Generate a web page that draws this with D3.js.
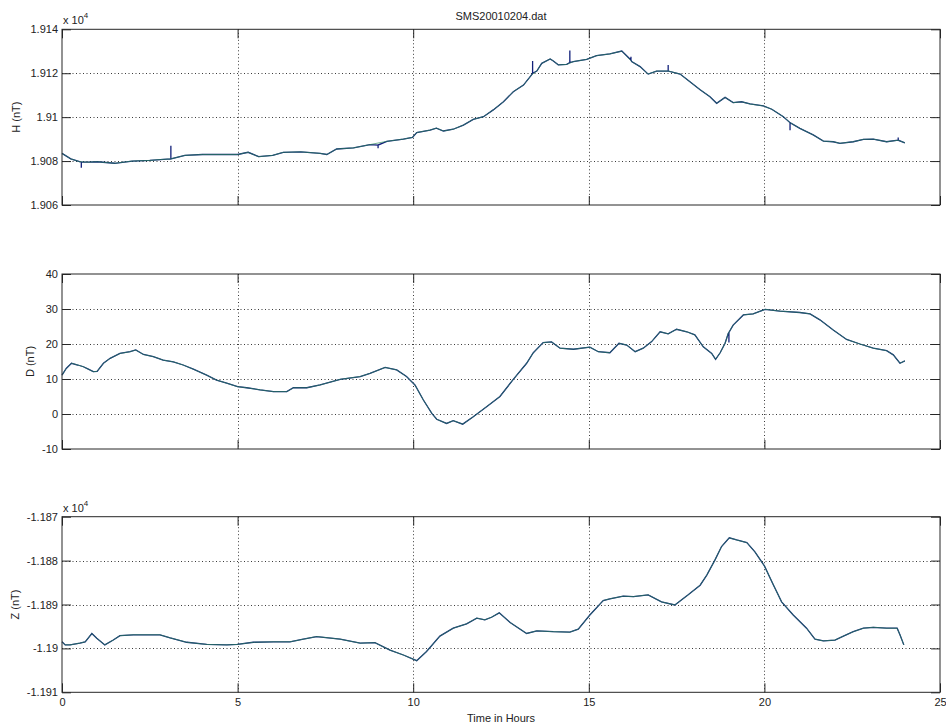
<!DOCTYPE html>
<html><head><meta charset="utf-8">
<script src="https://cdn.jsdelivr.net/npm/d3@7"></script>
<style>body{margin:0;background:#fff}svg{display:block}text{font-family:"Liberation Sans",Arial,sans-serif}</style>
</head><body><svg id="c" width="946" height="727"></svg>
<script>
// ---------- data ----------
const title = "SMS20010204.dat";
const xTicks = [0, 5, 10, 15, 20, 25];
const xLabel = "Time in Hours";

const hHours = [0,0.25,0.5,0.75,1.0,1.5,2.0,2.5,2.8,3.1,3.5,4.0,4.5,5.0,5.3,5.6,6.0,6.3,6.8,7.35,7.54,7.82,8.3,8.77,9.25,9.72,9.98,10.1,10.48,10.66,10.86,11.14,11.43,11.71,12.0,12.28,12.57,12.85,13.14,13.37,13.52,13.66,13.9,13.99,14.13,14.37,14.56,14.94,15.22,15.6,15.94,16.22,16.46,16.69,16.93,17.26,17.6,17.88,18.17,18.45,18.64,18.88,19.11,19.35,19.59,19.97,20.21,20.54,20.73,21.01,21.39,21.68,21.96,22.15,22.53,22.82,23.1,23.48,23.81,24.0];
const hValues = [19083.5,19081.0,19079.7,19079.5,19079.7,19079.0,19080.0,19080.3,19080.7,19081.0,19082.6,19083.0,19083.0,19083.0,19084.0,19082.0,19082.6,19084.0,19084.2,19083.5,19083.0,19085.5,19086.0,19087.5,19089.0,19090.0,19090.8,19093.0,19094.1,19095.0,19093.7,19094.5,19096.4,19099.0,19100.2,19103.3,19107.0,19111.6,19114.6,19119.2,19121.0,19124.5,19126.5,19125.6,19123.8,19124.0,19125.3,19126.3,19128.0,19128.8,19130.1,19125.3,19123.0,19119.6,19121.0,19121.0,19119.6,19116.1,19112.5,19109.3,19106.3,19109.0,19106.6,19107.0,19106.0,19105.1,19103.6,19100.2,19097.5,19094.9,19091.9,19089.1,19088.8,19088.1,19088.8,19089.9,19090.0,19088.8,19089.5,19088.3];
// spikes in the raw (blue) trace: hour, base, tip
const hSpikeHours = [0.55, 3.1, 9.0, 13.4, 14.46, 16.2, 17.26, 20.73, 23.81];
const hSpikeBase  = [19079.6, 19081.0, 19087.3, 19120.0, 19124.8, 19126.0, 19121.0, 19097.5, 19089.5];
const hSpikeTip   = [19077.0, 19087.0, 19085.8, 19125.6, 19130.3, 19127.5, 19123.8, 19094.0, 19090.7];

const dHours = [0,0.12,0.27,0.45,0.61,0.75,0.89,1.0,1.18,1.37,1.65,1.94,2.1,2.32,2.6,2.88,3.17,3.45,3.74,4.12,4.4,4.69,5.0,5.26,5.64,6.02,6.4,6.59,6.97,7.35,7.92,8.49,8.77,9.2,9.53,9.81,10.05,10.29,10.53,10.67,10.95,11.14,11.41,11.71,12.09,12.47,12.85,13.23,13.42,13.7,13.94,14.18,14.56,15.03,15.27,15.6,15.86,16.08,16.32,16.55,16.79,17.03,17.26,17.5,17.79,18.02,18.26,18.5,18.61,18.74,18.88,18.97,19.11,19.4,19.68,20.02,20.44,21.01,21.3,21.58,21.96,22.34,22.72,23.1,23.48,23.67,23.86,24.0];
const dValues = [11.1,13.0,14.5,14.0,13.5,12.8,12.1,12.2,14.5,15.9,17.3,17.8,18.3,17.0,16.4,15.4,14.9,14.0,12.8,11.1,9.7,8.8,7.8,7.5,6.9,6.4,6.4,7.5,7.5,8.3,9.9,10.7,11.6,13.3,12.6,10.7,8.3,4.0,0.2,-1.5,-2.7,-1.9,-2.9,-0.8,2.1,5.0,9.9,14.5,17.5,20.4,20.6,18.8,18.5,19.1,17.8,17.5,20.2,19.7,17.8,18.8,20.7,23.5,22.9,24.2,23.5,22.6,19.2,17.3,15.6,17.5,20.2,23.0,25.4,28.3,28.6,29.9,29.4,29.0,28.6,26.9,24.0,21.3,20.0,18.8,18.1,16.9,14.5,15.2];
const dSpikeHours = [18.99];
const dSpikeBase  = [23.3];
const dSpikeTip   = [20.4];

const zHours = [0,0.09,0.23,0.51,0.66,0.85,0.99,1.22,1.46,1.65,2.03,2.79,3.08,3.55,4.12,4.69,4.99,5.45,6.02,6.49,6.87,7.25,7.92,8.49,8.91,9.34,9.72,10.1,10.38,10.76,11.14,11.52,11.81,12.04,12.23,12.45,12.76,13.23,13.52,13.99,14.46,14.7,15.03,15.41,15.6,15.98,16.27,16.69,17.07,17.45,17.83,18.17,18.36,18.59,18.78,19.0,19.21,19.5,19.73,20.0,20.26,20.49,20.82,21.2,21.44,21.68,22.01,22.25,22.53,22.82,23.1,23.48,23.78,23.86,23.97];
const zValues = [-11898.5,-11899.2,-11899.2,-11898.8,-11898.5,-11896.6,-11897.7,-11899.2,-11898.1,-11897.1,-11896.9,-11896.9,-11897.6,-11898.6,-11899.1,-11899.2,-11899.1,-11898.6,-11898.5,-11898.5,-11897.9,-11897.3,-11897.9,-11898.8,-11898.7,-11900.4,-11901.5,-11902.8,-11900.7,-11897.2,-11895.4,-11894.4,-11893.1,-11893.5,-11892.9,-11891.9,-11894.1,-11896.6,-11896.0,-11896.2,-11896.3,-11895.6,-11892.4,-11889.1,-11888.7,-11888.1,-11888.2,-11887.8,-11889.4,-11890.1,-11887.8,-11885.6,-11883.3,-11879.9,-11876.8,-11874.8,-11875.3,-11875.9,-11878.0,-11881.2,-11885.6,-11889.4,-11892.4,-11895.4,-11897.9,-11898.3,-11898.1,-11897.2,-11896.2,-11895.4,-11895.2,-11895.4,-11895.4,-11896.9,-11899.2];
const zSpikeHours = [], zSpikeBase = [], zSpikeTip = [];

const hTicks = [19060, 19080, 19100, 19120, 19140];
const dTicks = [-10, 0, 10, 20, 30, 40];
const zTicks = [-11910, -11900, -11890, -11880, -11870];
const yLabels = ["H (nT)", "D (nT)", "Z (nT)"];

// ---------- layout ----------
const svg = d3.select("#c");
const xL = 62, xR = 940;
const x = d3.scaleLinear().domain([0, 25]).range([xL, xR]);
const sci = d => String(+(d / 1e4).toFixed(4));
const panels = [
  {top: 29.3, bottom: 205, ticks: hTicks, hours: hHours, vals: hValues, sh: hSpikeHours, sb: hSpikeBase, st: hSpikeTip, fmt: sci, label: yLabels[0], labelX: 16, exp: true},
  {top: 274, bottom: 449, ticks: dTicks, hours: dHours, vals: dValues, sh: dSpikeHours, sb: dSpikeBase, st: dSpikeTip, fmt: d => String(d), label: yLabels[1], labelX: 30, exp: false},
  {top: 516.7, bottom: 692.3, ticks: zTicks, hours: zHours, vals: zValues, sh: zSpikeHours, sb: zSpikeBase, st: zSpikeTip, fmt: sci, label: yLabels[2], labelX: 15, exp: true, xlabels: true}
];
const axisCol = "#262626", textCol = "#222";
const tickLen = 9;

panels.forEach(p => {
  const y = d3.scaleLinear().domain([p.ticks[0], p.ticks[p.ticks.length - 1]]).range([p.bottom, p.top]);
  const g = svg.append("g");
  // grid
  const grid = g.append("g").attr("stroke", "#3a3a3a").attr("stroke-width", 1).attr("stroke-dasharray", "1,2.5");
  xTicks.slice(1, -1).forEach(t => grid.append("line").attr("x1", Math.round(x(t)) + 0.5).attr("x2", Math.round(x(t)) + 0.5).attr("y1", p.top).attr("y2", p.bottom));
  p.ticks.slice(1, -1).forEach(t => grid.append("line").attr("y1", Math.round(y(t)) + 0.5).attr("y2", Math.round(y(t)) + 0.5).attr("x1", xL).attr("x2", xR));

  // green (filtered) and blue (raw with spikes) traces
  const green = p.hours.map((h, i) => [h, p.vals[i]]);
  const blue = green.slice();
  p.sh.forEach((h, i) => { blue.push([h - 0.0001, p.sb[i]], [h, p.st[i]], [h + 0.0001, p.sb[i]]); });
  blue.sort((a, b) => a[0] - b[0]);
  const line = d3.line().x(d => x(d[0])).y(d => y(d[1]));
  g.append("path").attr("d", line(blue)).attr("fill", "none").attr("stroke", "#12207a").attr("stroke-width", 1.3);
  g.append("path").attr("d", line(green)).attr("fill", "none").attr("stroke", "#2f8a5c").attr("stroke-width", 0.8).attr("stroke-opacity", 0.85);

  // axes (ticks inside)
  const styleAxis = sel => { sel.select(".domain").remove(); sel.selectAll("line").attr("stroke", axisCol); sel.selectAll("text").attr("fill", textCol).style("font-size", "11px").style("font-family", "'Liberation Sans',Arial,sans-serif"); };
  g.append("g").attr("transform", `translate(${xL},0)`).call(d3.axisLeft(y).tickValues(p.ticks).tickSize(-tickLen).tickPadding(4).tickFormat(p.fmt)).call(styleAxis);
  g.append("g").attr("transform", `translate(${xR},0)`).call(d3.axisRight(y).tickValues(p.ticks).tickSize(-tickLen).tickFormat("")).call(styleAxis);
  g.append("g").attr("transform", `translate(0,${p.top})`).call(d3.axisTop(x).tickValues(xTicks).tickSize(-tickLen).tickFormat("")).call(styleAxis);
  g.append("g").attr("transform", `translate(0,${p.bottom})`).call(d3.axisBottom(x).tickValues(xTicks).tickSize(-tickLen).tickPadding(6).tickFormat(p.xlabels ? d => String(d) : "")).call(styleAxis);
  g.append("rect").attr("x", xL).attr("y", p.top).attr("width", xR - xL).attr("height", p.bottom - p.top).attr("fill", "none").attr("stroke", axisCol).attr("stroke-width", 1);

  // y label
  g.append("text").attr("transform", `translate(${p.labelX},${(p.top + p.bottom) / 2}) rotate(-90)`).attr("text-anchor", "middle").attr("dy", "0.35em").attr("fill", textCol).style("font-size", "11px").text(p.label);
  if (p.exp) {
    const t = g.append("text").attr("x", xL + 1).attr("y", p.top - 5).attr("fill", textCol).style("font-size", "11px");
    t.append("tspan").text("x 10");
    t.append("tspan").attr("dy", -6).style("font-size", "8px").text("4");
  }
});

svg.append("text").attr("x", (xL + xR) / 2).attr("y", 20).attr("text-anchor", "middle").attr("fill", textCol).style("font-size", "11px").text(title);
svg.append("text").attr("x", (xL + xR) / 2).attr("y", 722).attr("text-anchor", "middle").attr("fill", textCol).style("font-size", "11px").text(xLabel);
</script></body></html>
